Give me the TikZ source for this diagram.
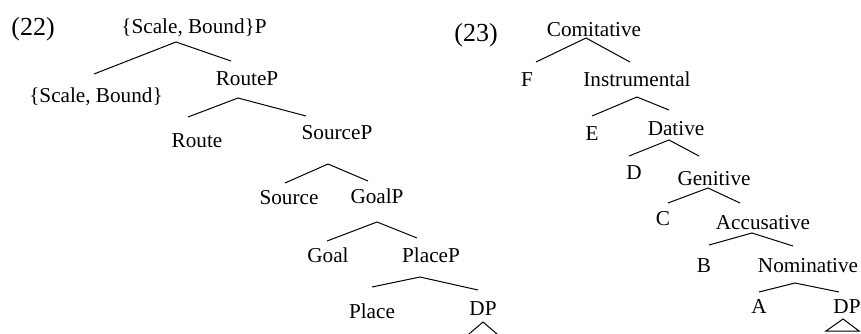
\documentclass[tikz,border=0pt]{standalone}
\usepackage{fontspec}
\setmainfont{Liberation Serif}
\begin{document}
\begin{tikzpicture}[x=1pt,y=-1pt,
  lab/.style={inner sep=0pt,anchor=base,font=\fontsize{21.2}{25}\selectfont},
  num/.style={inner sep=0pt,anchor=base,font=\fontsize{26}{30}\selectfont},
  br/.style={line width=1pt}]
\clip (0,0) rectangle (861,333);
\fill[white] (0,0) rectangle (861,333);
% ---- (22) ----
\node[num] (n22) at (33,35) {(22)};
\node[lab] (sbp) at (194,33) {\{Scale, Bound\}P};
\node[lab] (sb) at (96,102) {\{Scale, Bound\}};
\node[lab] (routep) at (247,85) {RouteP};
\node[lab] (route) at (197,147) {Route};
\node[lab] (sourcep) at (337,139) {SourceP};
\node[lab] (source) at (289,204) {Source};
\node[lab] (goalp) at (377,203) {GoalP};
\node[lab] (goal) at (328,262) {Goal};
\node[lab] (placep) at (431,262) {PlaceP};
\node[lab] (place) at (372,318) {Place};
\node[lab] (dpl) at (483,315) {DP};
\coordinate (a1) at (176,42); \coordinate (l1) at (94,74); \coordinate (r1) at (231,61);
\coordinate (a2) at (238,98); \coordinate (l2) at (188,117); \coordinate (r2) at (306,116);
\coordinate (a3) at (328,164); \coordinate (l3) at (285,183); \coordinate (r3) at (368,181);
\coordinate (a4) at (377,222); \coordinate (l4) at (327,241); \coordinate (r4) at (417,238);
\coordinate (a5) at (420,277); \coordinate (l5) at (372,287); \coordinate (r5) at (478,290);
\coordinate (t1) at (483,322); \coordinate (tl1) at (462,340); \coordinate (tr1) at (504,340);
\draw[br] (l1) -- (a1) -- (r1);
\draw[br] (l2) -- (a2) -- (r2);
\draw[br] (l3) -- (a3) -- (r3);
\draw[br] (l4) -- (a4) -- (r4);
\draw[br] (l5) -- (a5) -- (r5);
\draw[br] (tl1) -- (t1) -- (tr1);
% ---- (23) ----
\node[num] (n23) at (476,41) {(23)};
\node[lab] (com) at (594,36) {Comitative};
\node[lab] (f) at (527,86) {F};
\node[lab] (ins) at (637,86) {Instrumental};
\node[lab] (e) at (592,140) {E};
\node[lab] (dat) at (676,135) {Dative};
\node[lab] (d) at (634,179) {D};
\node[lab] (gen) at (714,185) {Genitive};
\node[lab] (c) at (663,225) {C};
\node[lab] (acc) at (763,229) {Accusative};
\node[lab] (b) at (704,272) {B};
\node[lab] (nom) at (808,272) {Nominative};
\node[lab] (aa) at (759,313) {A};
\node[lab] (dpr) at (847,313) {DP};
\coordinate (b1) at (586,38); \coordinate (bl1) at (536,62); \coordinate (br1) at (630,62);
\coordinate (b2) at (637,97); \coordinate (bl2) at (592,116); \coordinate (br2) at (669,110);
\coordinate (b3) at (669,140); \coordinate (bl3) at (629,156); \coordinate (br3) at (699,156);
\coordinate (b4) at (708,188); \coordinate (bl4) at (668,203); \coordinate (br4) at (740,203);
\coordinate (b5) at (752,233); \coordinate (bl5) at (709,245); \coordinate (br5) at (793,246);
\coordinate (b6) at (795,283); \coordinate (bl6) at (759,292); \coordinate (br6) at (839,292);
\coordinate (t2) at (843,319); \coordinate (tl2) at (826,331); \coordinate (tr2) at (859,331);
\draw[br] (bl1) -- (b1) -- (br1);
\draw[br] (bl2) -- (b2) -- (br2);
\draw[br] (bl3) -- (b3) -- (br3);
\draw[br] (bl4) -- (b4) -- (br4);
\draw[br] (bl5) -- (b5) -- (br5);
\draw[br] (bl6) -- (b6) -- (br6);
\draw[br] (t2) -- (tl2) -- (tr2) -- cycle;
\end{tikzpicture}
\end{document}
